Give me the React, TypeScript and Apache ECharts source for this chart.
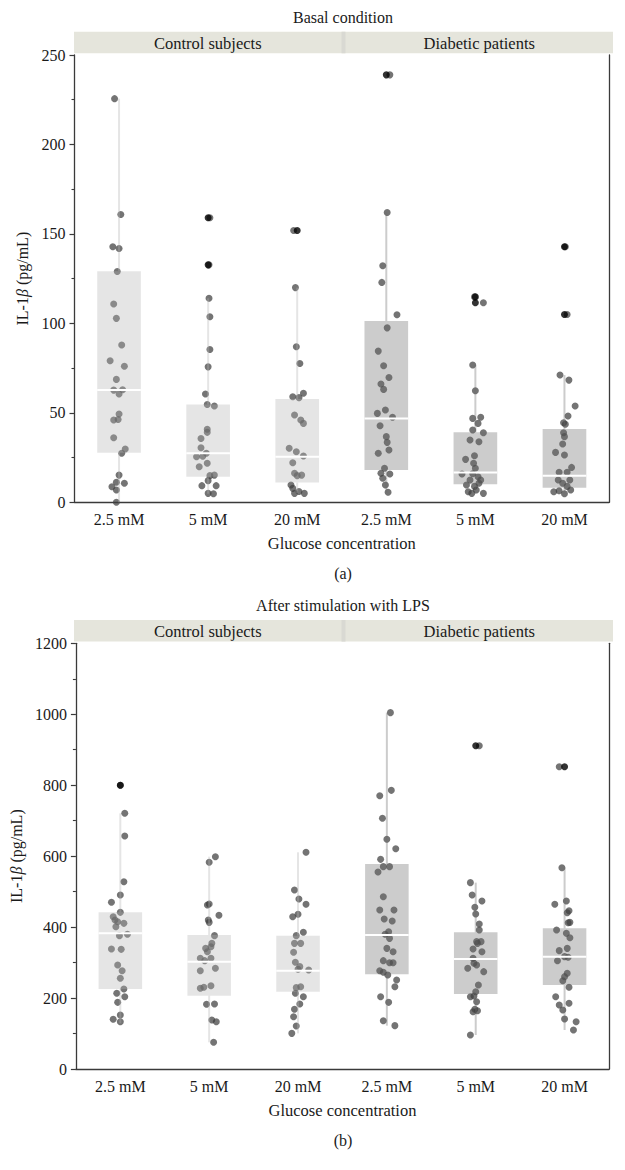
import React, { useEffect, useRef } from "react";
import * as echarts from "echarts";

// ---------- text ----------
const concentrations = ["2.5 mM", "5 mM", "20 mM", "2.5 mM", "5 mM", "20 mM"];
const groupNames = ["Control subjects", "Diabetic patients"];
const panelTitles = ["Basal condition", "After stimulation with LPS"];
const panelTags = ["(a)", "(b)"];
const xAxisTitle = "Glucose concentration";

// ---------- y scales ----------
const basalAxis = { max: 250, interval: 50 };
const lpsAxis = { max: 1200, interval: 200 };

// ---------- box statistics [low whisker, Q1, median, Q3, high whisker] ----------
const basalBoxes = [
  [0, 27.7, 62.7, 129.2, 225.6],
  [4.8, 14.3, 27.4, 54.7, 114],
  [5, 11, 25.5, 57.7, 120],
  [5.6, 18, 46.9, 101.3, 162],
  [5, 10.1, 16.6, 39.1, 76.7],
  [4.8, 8.2, 14.9, 41, 71.1],
];
const lpsBoxes = [
  [128.7, 225.5, 382.4, 441.6, 720.7],
  [75.2, 206.7, 302.6, 377.7, 598.5],
  [100.5, 218, 277.2, 375.9, 610.8],
  [122.2, 266.9, 377.7, 577.9, 1004.5],
  [95.8, 211.4, 310.1, 385.3, 525.3],
  [109.9, 236.8, 316.7, 396.5, 567.5],
];

// ---------- outliers [category index, value] ----------
const basalOutliers = [[1, 159], [1, 132.7], [2, 151.9], [3, 238.9], [4, 114.8], [4, 111.5], [5, 142.8], [5, 105]];
const lpsOutliers = [[0, 800], [4, 911.4], [5, 852.2]];

// ---------- individual observations [horizontal jitter, value] ----------
const basalControl25 = [[-0.05,225.6],[0.02,160.9],[-0.07,142.8],[0,141.9],[-0.02,129],[-0.06,110.8],[-0.03,102.8],[0.03,87.9],[-0.1,79.1],[0.06,76],[-0.03,68.7],[-0.06,62.7],[0.04,62.9],[0,60.5],[0,49.3],[-0.06,46],[-0.01,46.3],[-0.06,36.1],[0.07,29.8],[0.03,27.4],[0,15.2],[-0.08,8.7],[-0.03,11.2],[0.06,10.6],[-0.03,6.9],[-0.03,0]];
const basalControl5 = [[0.02,159],[0.01,132.7],[0.01,114],[0.02,103.7],[0.02,85.4],[0,75.7],[-0.03,60.5],[-0.01,54.7],[0.07,53.8],[-0.01,40.8],[-0.01,39.1],[-0.08,35.7],[-0.08,30.5],[-0.13,25.5],[-0.06,25.7],[-0.02,27.4],[-0.1,19.9],[-0.01,21.8],[0.02,14.9],[0.07,15.2],[0,12.1],[-0.07,9.3],[0.09,9.3],[0,5],[0.06,4.8]];
const basalControl20 = [[-0.04,151.9],[-0.02,120],[-0.01,86.9],[0.03,77.6],[-0.05,59],[0.07,60.9],[0.02,58.5],[-0.03,48.8],[0.07,44.1],[0.04,46],[-0.09,30.2],[-0.01,28.3],[-0.05,22.1],[0.07,25.9],[-0.03,16.2],[0.05,15.2],[0,14.9],[-0.07,9.7],[-0.05,7.8],[0.02,6],[0.08,5],[-0.03,5]];
const basalDiabetic25 = [[0.04,238.9],[0.01,162],[-0.04,132.2],[-0.05,122.9],[0.12,104.8],[0.01,97.5],[-0.09,84.5],[-0.03,76.3],[0.03,69.8],[-0.06,66.1],[-0.03,63.1],[-0.1,49.7],[-0.01,51.6],[0.07,47.5],[-0.07,42.8],[0,36.7],[0.01,33.5],[-0.09,27.4],[0.03,29.2],[-0.02,19],[-0.06,16.2],[0.04,15.8],[-0.04,13.4],[-0.01,9.7],[0.02,5.6]];
const basalDiabetic5 = [[-0.01,114.8],[0.09,111.5],[-0.03,76.7],[0,62.3],[-0.03,46.9],[0.06,47.5],[0.03,44.1],[-0.03,40.4],[0.09,38.9],[-0.06,34.8],[0.04,33.8],[-0.01,26],[-0.11,24],[-0.02,21.8],[0,19],[-0.15,15.8],[-0.03,16],[0.03,14.3],[-0.06,12.5],[0.06,12.5],[-0.1,9.7],[-0.01,8.9],[-0.08,5.9],[-0.04,5],[0.09,5],[0.01,6.9],[0.04,10.6]];
const basalDiabetic20 = [[0.01,142.8],[0.03,105],[-0.05,71.1],[0.05,68.3],[0.12,53.8],[0.04,48.2],[-0.01,44.5],[0.01,43.6],[-0.01,38.9],[0,36.7],[-0.02,32.6],[-0.1,27.9],[0,26.4],[0.08,19.5],[-0.06,16.8],[0.03,16.8],[-0.07,12.5],[0.06,12.5],[-0.02,10.6],[-0.12,5.9],[-0.06,6.5],[0.07,6.9],[0,4.8],[0.03,8.9]];

const lpsControl25 = [[0,800],[0.05,720.7],[0.05,656.8],[0.04,528],[0,490.5],[-0.1,469.8],[0,441.6],[-0.08,429.4],[-0.06,420],[-0.03,415.3],[0.04,410.6],[-0.05,401.2],[0.08,379.6],[-0.01,375.9],[-0.1,338.3],[0.01,337.3],[-0.03,293.2],[0.02,277.2],[0,255.6],[0.04,225.5],[-0.04,213.3],[0.05,203.9],[-0.03,187.9],[0,152.2],[-0.08,140],[0,133.4]];
const lpsControl5 = [[0.07,598.5],[0,582.6],[-0.02,462.3],[0,465.1],[0.11,433.2],[-0.01,420],[0,413.4],[0.06,375.9],[0.03,354.2],[0.02,344.8],[-0.04,340.1],[-0.02,330.7],[-0.1,312],[-0.05,305.4],[0.02,312],[-0.1,277.2],[0.07,283.8],[-0.1,227.4],[-0.06,230.2],[0.02,234.9],[-0.03,182.3],[0.06,183.2],[0.03,138.1],[0.08,133.4],[0.05,75.2]];
const lpsControl20 = [[0.09,610.8],[-0.04,504.6],[0.01,479.2],[0.09,464.2],[-0.06,429.4],[0,436],[0.06,385.3],[-0.02,375.9],[-0.04,354.2],[0.03,354.2],[-0.05,328.9],[-0.03,300.7],[0.02,288.5],[0,281],[0.12,279.1],[0.03,232.1],[-0.02,229.3],[-0.03,213.3],[0.06,203.9],[0.02,183.2],[-0.04,168.2],[-0.05,147.5],[-0.02,121.2],[-0.07,100.5]];
const lpsDiabetic25 = [[0.04,1004.5],[0.05,785.5],[-0.08,770.5],[-0.05,706.6],[0,647.4],[0.1,621.1],[-0.07,591],[-0.04,570.4],[0.03,570.4],[-0.1,555.3],[-0.04,485.8],[-0.08,448.2],[0.08,448.2],[-0.03,422.8],[0.06,417.2],[0.02,387.1],[-0.02,379.6],[0.03,368.3],[0,340.1],[0.07,330.7],[-0.04,305.4],[0.03,299.7],[0.07,299.7],[-0.08,277.2],[-0.04,272.5],[0.01,265],[0.11,250.9],[0.09,232.1],[-0.07,203.9],[0.02,187.9],[-0.04,136.2],[0.09,122.2]];
const lpsDiabetic5 = [[0.04,911.4],[-0.06,525.3],[-0.04,490.5],[0.07,473.6],[-0.01,455.7],[0,436.9],[0.04,408.7],[0.04,391.8],[0.01,359],[0.06,359],[0.02,354.2],[-0.03,338.3],[0.07,330.7],[-0.03,312],[-0.02,297.9],[-0.09,283.8],[0.09,274.4],[0.01,293.2],[0.03,236.8],[0,218],[-0.02,205.8],[-0.06,203.9],[0.01,189.8],[-0.01,168.2],[-0.03,161.6],[0.02,164.4],[-0.06,95.8]];
const lpsDiabetic20 = [[-0.06,852.2],[-0.03,567.5],[-0.11,464.2],[0.02,473.6],[0.05,446.3],[0.03,440.7],[0.04,412.5],[0.06,413.4],[-0.09,391.8],[0.02,382.4],[0.06,370.2],[-0.06,333.6],[0.03,340.1],[0,316.7],[0.04,314.8],[-0.08,305.4],[0.03,269.7],[0,260.3],[-0.02,249],[0.05,230.2],[-0.1,203.9],[-0.06,180.4],[0.05,185.1],[-0.02,166.3],[0,140.9],[0.13,133.4],[0.1,109.9]];

const basalPoints = [basalControl25, basalControl5, basalControl20, basalDiabetic25, basalDiabetic5, basalDiabetic20];
const lpsPoints = [lpsControl25, lpsControl5, lpsControl20, lpsDiabetic25, lpsDiabetic5, lpsDiabetic20];

// ---------- styling ----------
const FONT = "'Liberation Serif', 'DejaVu Serif', serif";
const TEXT = "#1a1a1a";
const AXIS = "#3a3a3a";
const CONTROL_FILL = "rgba(181,181,181,0.35)";
const DIABETIC_FILL = "rgba(109,109,109,0.35)";
const POINT = "rgba(62,62,62,0.9)";
const STRIP = "#e5e5dc";

const GRID_LEFT = 74.5;
const GRID_WIDTH = 534.5;
const panels = [
  { top: 55, height: 447.3, axis: basalAxis, boxes: basalBoxes, points: basalPoints, outliers: basalOutliers },
  { top: 643.3, height: 425.7, axis: lpsAxis, boxes: lpsBoxes, points: lpsPoints, outliers: lpsOutliers },
];

function renderBox(params: any, api: any) {
  const i = api.value(0);
  const cx = api.coord([i, 0])[0];
  const yLow = api.coord([i, api.value(1)])[1];
  const yQ1 = api.coord([i, api.value(2)])[1];
  const yMed = api.coord([i, api.value(3)])[1];
  const yQ3 = api.coord([i, api.value(4)])[1];
  const yHigh = api.coord([i, api.value(5)])[1];
  const bw = api.size([1, 0])[0] * 0.49;
  const fill = i < 3 ? CONTROL_FILL : DIABETIC_FILL;
  return {
    type: "group",
    children: [
      { type: "line", shape: { x1: cx, y1: yHigh, x2: cx, y2: yQ3 }, style: { stroke: fill, lineWidth: 2 } },
      { type: "line", shape: { x1: cx, y1: yQ1, x2: cx, y2: yLow }, style: { stroke: fill, lineWidth: 2 } },
      { type: "rect", shape: { x: cx - bw / 2, y: yQ3, width: bw, height: yQ1 - yQ3 }, style: { fill } },
      { type: "line", shape: { x1: cx - bw / 2, y1: yMed, x2: cx + bw / 2, y2: yMed }, style: { stroke: "#ffffff", lineWidth: 2 } },
    ],
  };
}

function buildOption() {
  const grid: any[] = [];
  const xAxis: any[] = [];
  const yAxis: any[] = [];
  const series: any[] = [];
  const graphic: any[] = [];
  const textBase = { fontFamily: FONT, color: TEXT };

  panels.forEach((pn, p) => {
    grid.push({ left: GRID_LEFT, width: GRID_WIDTH, top: pn.top, height: pn.height, containLabel: false });
    xAxis.push({
      gridIndex: p,
      type: "value",
      min: -0.5,
      max: 5.5,
      axisLine: { show: true, onZero: false, lineStyle: { color: AXIS, width: 1.3 } },
      axisTick: { show: false },
      splitLine: { show: false },
      axisLabel: {
        ...textBase,
        fontSize: 16,
        margin: 9,
        customValues: [0, 1, 2, 3, 4, 5],
        formatter: (v: number) => concentrations[Math.round(v)],
      },
      name: xAxisTitle,
      nameLocation: "middle",
      nameGap: 33,
      nameTextStyle: { ...textBase, fontSize: 16.5 },
    });
    yAxis.push({
      gridIndex: p,
      type: "value",
      min: 0,
      max: pn.axis.max,
      interval: pn.axis.interval,
      axisLine: { show: true, onZero: false, lineStyle: { color: AXIS, width: 1.3 } },
      axisTick: { show: true, length: 5, lineStyle: { color: AXIS, width: 1.2 } },
      minorTick: { show: true, splitNumber: 2, length: 3, lineStyle: { color: AXIS, width: 1.1 } },
      splitLine: { show: false },
      minorSplitLine: { show: false },
      axisLabel: { ...textBase, fontSize: 16, margin: 9, formatter: (v: number) => String(v) },
      name: "{n|IL-1}{b|β}{n| (pg/mL)}",
      nameLocation: "middle",
      nameRotate: 90,
      nameGap: 38,
      nameTextStyle: {
        ...textBase,
        fontSize: 16,
        rich: {
          n: { fontFamily: FONT, fontSize: 16, color: TEXT },
          b: { fontFamily: FONT, fontSize: 16, color: TEXT, fontStyle: "italic" },
        },
      },
    });
    yAxis.push({
      gridIndex: p,
      type: "value",
      position: "right",
      min: 0,
      max: pn.axis.max,
      interval: pn.axis.interval,
      axisLine: { show: true, onZero: false, lineStyle: { color: AXIS, width: 1.3 } },
      axisTick: { show: false },
      axisLabel: { show: false },
      splitLine: { show: false },
    });

    const pointData: number[][] = [];
    pn.points.forEach((grp, i) => grp.forEach(([dx, v]) => pointData.push([i + dx, v])));
    series.push({
      type: "scatter",
      xAxisIndex: p,
      yAxisIndex: 2 * p,
      data: pointData,
      symbolSize: 7,
      itemStyle: { color: POINT },
      z: 2,
      silent: true,
    });
    series.push({
      type: "custom",
      xAxisIndex: p,
      yAxisIndex: 2 * p,
      data: pn.boxes.map((b, i) => [i, ...b]),
      encode: { x: 0, y: [1, 2, 3, 4, 5] },
      renderItem: renderBox,
      z: 3,
      silent: true,
    });
    series.push({
      type: "scatter",
      xAxisIndex: p,
      yAxisIndex: 2 * p,
      data: pn.outliers,
      symbolSize: 7,
      itemStyle: { color: "#000000" },
      z: 4,
      silent: true,
    });

    // titles, facet strips and panel tags
    const stripTop = pn.top - 23.3;
    const stripH = 21.6;
    graphic.push({
      type: "text",
      x: 343,
      y: pn.top - 38,
      style: { text: panelTitles[p], fontFamily: FONT, fontSize: 16, fill: TEXT, align: "center", verticalAlign: "middle" },
    });
    graphic.push({ type: "rect", shape: { x: 74, y: stripTop, width: 539, height: stripH }, style: { fill: STRIP } });
    graphic.push({ type: "rect", shape: { x: 341.5, y: stripTop, width: 4, height: stripH }, style: { fill: "#d9d9d3" } });
    graphic.push({
      type: "text",
      x: (74 + 341.5) / 2,
      y: stripTop + stripH / 2 + 0.5,
      style: { text: groupNames[0], fontFamily: FONT, fontSize: 16.5, fill: TEXT, align: "center", verticalAlign: "middle" },
    });
    graphic.push({
      type: "text",
      x: (345.5 + 613) / 2,
      y: stripTop + stripH / 2 + 0.5,
      style: { text: groupNames[1], fontFamily: FONT, fontSize: 16.5, fill: TEXT, align: "center", verticalAlign: "middle" },
    });
    graphic.push({
      type: "text",
      x: 343,
      y: pn.top + pn.height + 71,
      style: { text: panelTags[p], fontFamily: FONT, fontSize: 16, fill: TEXT, align: "center", verticalAlign: "middle" },
    });
  });

  return { animation: false, backgroundColor: "#ffffff", grid, xAxis, yAxis, series, graphic };
}

export default function App() {
  const ref = useRef<HTMLDivElement>(null);
  useEffect(() => {
    if (!ref.current) return;
    const chart = echarts.init(ref.current, undefined, { renderer: "svg" });
    chart.setOption(buildOption() as any);
    return () => chart.dispose();
  }, []);
  return <div ref={ref} style={{ position: "absolute", left: 0, top: 0, width: 625, height: 1170 }} />;
}
